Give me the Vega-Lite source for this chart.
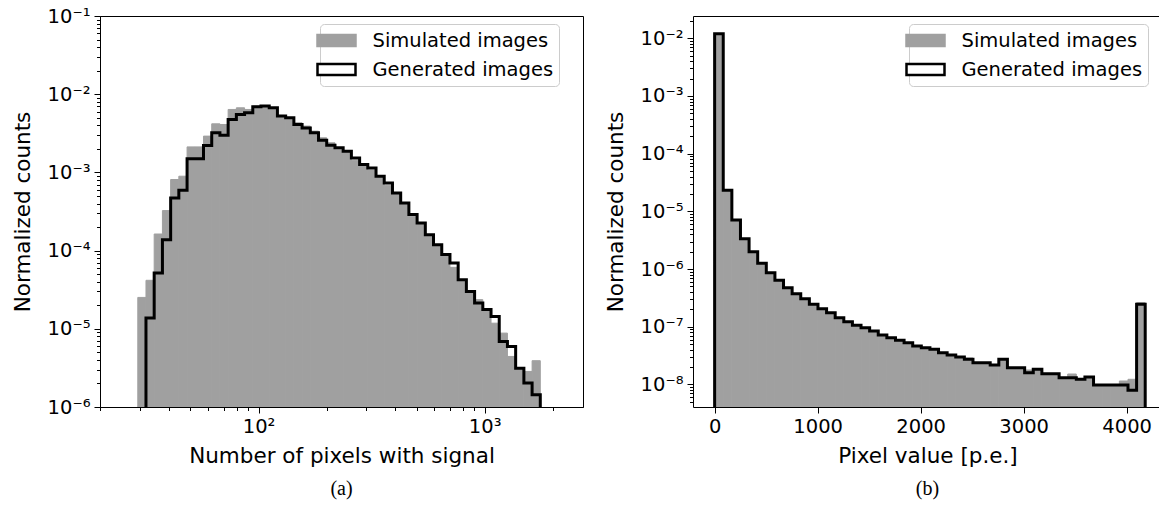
{
  "$schema": "https://vega.github.io/schema/vega-lite/v6.json",
  "background": "white",
  "padding": {"left": 11, "top": 5, "right": 0, "bottom": 5},
  "bounds": "flush",
  "spacing": 110,
  "datasets": {
    "simA": [
      {"series": "Simulated images", "x0": 29.24, "x1": 31.78, "v": 2.52e-5},
      {"series": "Simulated images", "x0": 31.78, "x1": 34.55, "v": 4.17e-5},
      {"series": "Simulated images", "x0": 34.55, "x1": 37.58, "v": 1.63e-4},
      {"series": "Simulated images", "x0": 37.58, "x1": 40.86, "v": 3.25e-4},
      {"series": "Simulated images", "x0": 40.86, "x1": 44.41, "v": 8.11e-4},
      {"series": "Simulated images", "x0": 44.41, "x1": 48.30, "v": 8.94e-4},
      {"series": "Simulated images", "x0": 48.30, "x1": 52.51, "v": 2.12e-3},
      {"series": "Simulated images", "x0": 52.51, "x1": 57.09, "v": 2.12e-3},
      {"series": "Simulated images", "x0": 57.09, "x1": 62.08, "v": 2.91e-3},
      {"series": "Simulated images", "x0": 62.08, "x1": 67.48, "v": 4.18e-3},
      {"series": "Simulated images", "x0": 67.48, "x1": 73.37, "v": 4.10e-3},
      {"series": "Simulated images", "x0": 73.37, "x1": 79.78, "v": 6.38e-3},
      {"series": "Simulated images", "x0": 79.78, "x1": 86.74, "v": 6.70e-3},
      {"series": "Simulated images", "x0": 86.74, "x1": 94.30, "v": 6.38e-3},
      {"series": "Simulated images", "x0": 94.30, "x1": 102.5, "v": 7.04e-3},
      {"series": "Simulated images", "x0": 102.5, "x1": 111.5, "v": 7.04e-3},
      {"series": "Simulated images", "x0": 111.5, "x1": 121.2, "v": 6.38e-3},
      {"series": "Simulated images", "x0": 121.2, "x1": 131.8, "v": 5.35e-3},
      {"series": "Simulated images", "x0": 131.8, "x1": 143.3, "v": 4.99e-3},
      {"series": "Simulated images", "x0": 143.3, "x1": 155.8, "v": 4.31e-3},
      {"series": "Simulated images", "x0": 155.8, "x1": 169.4, "v": 3.91e-3},
      {"series": "Simulated images", "x0": 169.4, "x1": 184.2, "v": 3.37e-3},
      {"series": "Simulated images", "x0": 184.2, "x1": 200.2, "v": 2.77e-3},
      {"series": "Simulated images", "x0": 200.2, "x1": 217.8, "v": 2.39e-3},
      {"series": "Simulated images", "x0": 217.8, "x1": 236.7, "v": 1.98e-3},
      {"series": "Simulated images", "x0": 236.7, "x1": 257.4, "v": 1.87e-3},
      {"series": "Simulated images", "x0": 257.4, "x1": 279.9, "v": 1.43e-3},
      {"series": "Simulated images", "x0": 279.9, "x1": 304.2, "v": 1.26e-3},
      {"series": "Simulated images", "x0": 304.2, "x1": 330.8, "v": 1.07e-3},
      {"series": "Simulated images", "x0": 330.8, "x1": 359.6, "v": 8.94e-4},
      {"series": "Simulated images", "x0": 359.6, "x1": 391.1, "v": 6.86e-4},
      {"series": "Simulated images", "x0": 391.1, "x1": 425.2, "v": 5.47e-4},
      {"series": "Simulated images", "x0": 425.2, "x1": 462.2, "v": 4.10e-4},
      {"series": "Simulated images", "x0": 462.2, "x1": 502.6, "v": 2.75e-4},
      {"series": "Simulated images", "x0": 502.6, "x1": 546.5, "v": 2.24e-4},
      {"series": "Simulated images", "x0": 546.5, "x1": 594.0, "v": 1.57e-4},
      {"series": "Simulated images", "x0": 594.0, "x1": 646.0, "v": 1.17e-4},
      {"series": "Simulated images", "x0": 646.0, "x1": 702.3, "v": 8.71e-5},
      {"series": "Simulated images", "x0": 702.3, "x1": 763.5, "v": 6.11e-5},
      {"series": "Simulated images", "x0": 763.5, "x1": 830.1, "v": 4.17e-5},
      {"series": "Simulated images", "x0": 830.1, "x1": 902.6, "v": 2.95e-5},
      {"series": "Simulated images", "x0": 902.6, "x1": 981.3, "v": 2.36e-5},
      {"series": "Simulated images", "x0": 981.3, "x1": 1067, "v": 1.73e-5},
      {"series": "Simulated images", "x0": 1067, "x1": 1160, "v": 1.18e-5},
      {"series": "Simulated images", "x0": 1160, "x1": 1261, "v": 8.81e-6},
      {"series": "Simulated images", "x0": 1261, "x1": 1371, "v": 4.43e-6},
      {"series": "Simulated images", "x0": 1371, "x1": 1491, "v": 3.12e-6},
      {"series": "Simulated images", "x0": 1491, "x1": 1621, "v": 2.85e-6},
      {"series": "Simulated images", "x0": 1621, "x1": 1762, "v": 3.91e-6}
    ],
    "genA": [
      {"i": 0, "x": 31.78, "v": 1e-6},
      {"i": 1, "x": 31.78, "v": 1.37e-5},
      {"i": 2, "x": 34.55, "v": 5.16e-5},
      {"i": 3, "x": 37.58, "v": 1.38e-4},
      {"i": 4, "x": 40.86, "v": 4.71e-4},
      {"i": 5, "x": 44.41, "v": 5.92e-4},
      {"i": 6, "x": 48.30, "v": 1.49e-3},
      {"i": 7, "x": 52.51, "v": 1.49e-3},
      {"i": 8, "x": 57.09, "v": 2.21e-3},
      {"i": 9, "x": 62.08, "v": 3.21e-3},
      {"i": 10, "x": 67.48, "v": 2.99e-3},
      {"i": 11, "x": 73.37, "v": 4.75e-3},
      {"i": 12, "x": 79.78, "v": 5.51e-3},
      {"i": 13, "x": 86.74, "v": 5.78e-3},
      {"i": 14, "x": 94.30, "v": 6.90e-3},
      {"i": 15, "x": 102.5, "v": 7.04e-3},
      {"i": 16, "x": 111.5, "v": 6.70e-3},
      {"i": 17, "x": 121.2, "v": 5.25e-3},
      {"i": 18, "x": 131.8, "v": 4.99e-3},
      {"i": 19, "x": 143.3, "v": 4.10e-3},
      {"i": 20, "x": 155.8, "v": 3.71e-3},
      {"i": 21, "x": 169.4, "v": 3.21e-3},
      {"i": 22, "x": 184.2, "v": 2.58e-3},
      {"i": 23, "x": 200.2, "v": 2.23e-3},
      {"i": 24, "x": 217.8, "v": 2.06e-3},
      {"i": 25, "x": 236.7, "v": 1.87e-3},
      {"i": 26, "x": 257.4, "v": 1.53e-3},
      {"i": 27, "x": 279.9, "v": 1.26e-3},
      {"i": 28, "x": 304.2, "v": 1.14e-3},
      {"i": 29, "x": 330.8, "v": 8.94e-4},
      {"i": 30, "x": 359.6, "v": 7.34e-4},
      {"i": 31, "x": 391.1, "v": 5.47e-4},
      {"i": 32, "x": 425.2, "v": 4.07e-4},
      {"i": 33, "x": 462.2, "v": 2.89e-4},
      {"i": 34, "x": 502.6, "v": 2.26e-4},
      {"i": 35, "x": 546.5, "v": 1.60e-4},
      {"i": 36, "x": 594.0, "v": 1.19e-4},
      {"i": 37, "x": 646.0, "v": 8.89e-5},
      {"i": 38, "x": 702.3, "v": 6.94e-5},
      {"i": 39, "x": 763.5, "v": 4.25e-5},
      {"i": 40, "x": 830.1, "v": 3.01e-5},
      {"i": 41, "x": 902.6, "v": 2.13e-5},
      {"i": 42, "x": 981.3, "v": 1.76e-5},
      {"i": 43, "x": 1067, "v": 1.44e-5},
      {"i": 44, "x": 1160, "v": 6.90e-6},
      {"i": 45, "x": 1261, "v": 5.96e-6},
      {"i": 46, "x": 1371, "v": 3.14e-6},
      {"i": 47, "x": 1491, "v": 2.02e-6},
      {"i": 48, "x": 1621, "v": 1.43e-6},
      {"i": 49, "x": 1762, "v": 1.43e-6},
      {"i": 50, "x": 1762, "v": 1e-6}
    ],
    "simB": [
      {"series": "Simulated images", "x0": 0, "x1": 83.6, "v": 0.01202},
      {"series": "Simulated images", "x0": 83.6, "x1": 167.2, "v": 2.32e-5},
      {"series": "Simulated images", "x0": 167.2, "x1": 250.8, "v": 7.10e-6},
      {"series": "Simulated images", "x0": 250.8, "x1": 334.4, "v": 3.36e-6},
      {"series": "Simulated images", "x0": 334.4, "x1": 418, "v": 2.00e-6},
      {"series": "Simulated images", "x0": 418, "x1": 501.6, "v": 1.26e-6},
      {"series": "Simulated images", "x0": 501.6, "x1": 585.2, "v": 8.66e-7},
      {"series": "Simulated images", "x0": 585.2, "x1": 668.8, "v": 6.39e-7},
      {"series": "Simulated images", "x0": 668.8, "x1": 752.4, "v": 4.76e-7},
      {"series": "Simulated images", "x0": 752.4, "x1": 836, "v": 3.75e-7},
      {"series": "Simulated images", "x0": 836, "x1": 919.6, "v": 3.07e-7},
      {"series": "Simulated images", "x0": 919.6, "x1": 1003.2, "v": 2.45e-7},
      {"series": "Simulated images", "x0": 1003.2, "x1": 1086.8, "v": 2.06e-7},
      {"series": "Simulated images", "x0": 1086.8, "x1": 1170.4, "v": 1.755e-7},
      {"series": "Simulated images", "x0": 1170.4, "x1": 1254, "v": 1.438e-7},
      {"series": "Simulated images", "x0": 1254, "x1": 1337.6, "v": 1.226e-7},
      {"series": "Simulated images", "x0": 1337.6, "x1": 1421.2, "v": 1.062e-7},
      {"series": "Simulated images", "x0": 1421.2, "x1": 1504.8, "v": 9.65e-8},
      {"series": "Simulated images", "x0": 1504.8, "x1": 1588.4, "v": 8.46e-8},
      {"series": "Simulated images", "x0": 1588.4, "x1": 1672, "v": 7.21e-8},
      {"series": "Simulated images", "x0": 1672, "x1": 1755.6, "v": 6.47e-8},
      {"series": "Simulated images", "x0": 1755.6, "x1": 1839.2, "v": 5.83e-8},
      {"series": "Simulated images", "x0": 1839.2, "x1": 1922.8, "v": 5.30e-8},
      {"series": "Simulated images", "x0": 1922.8, "x1": 2006.4, "v": 4.65e-8},
      {"series": "Simulated images", "x0": 2006.4, "x1": 2090, "v": 4.34e-8},
      {"series": "Simulated images", "x0": 2090, "x1": 2173.6, "v": 4.07e-8},
      {"series": "Simulated images", "x0": 2173.6, "x1": 2257.2, "v": 3.56e-8},
      {"series": "Simulated images", "x0": 2257.2, "x1": 2340.8, "v": 3.25e-8},
      {"series": "Simulated images", "x0": 2340.8, "x1": 2424.4, "v": 3.00e-8},
      {"series": "Simulated images", "x0": 2424.4, "x1": 2508, "v": 2.88e-8},
      {"series": "Simulated images", "x0": 2508, "x1": 2591.6, "v": 2.39e-8},
      {"series": "Simulated images", "x0": 2591.6, "x1": 2675.2, "v": 2.39e-8},
      {"series": "Simulated images", "x0": 2675.2, "x1": 2758.8, "v": 2.18e-8},
      {"series": "Simulated images", "x0": 2758.8, "x1": 2842.4, "v": 2.62e-8},
      {"series": "Simulated images", "x0": 2842.4, "x1": 2926, "v": 1.955e-8},
      {"series": "Simulated images", "x0": 2926, "x1": 3009.6, "v": 1.955e-8},
      {"series": "Simulated images", "x0": 3009.6, "x1": 3093.2, "v": 1.784e-8},
      {"series": "Simulated images", "x0": 3093.2, "x1": 3176.8, "v": 1.834e-8},
      {"series": "Simulated images", "x0": 3176.8, "x1": 3260.4, "v": 1.539e-8},
      {"series": "Simulated images", "x0": 3260.4, "x1": 3344, "v": 1.539e-8},
      {"series": "Simulated images", "x0": 3344, "x1": 3427.6, "v": 1.312e-8},
      {"series": "Simulated images", "x0": 3427.6, "x1": 3511.2, "v": 1.52e-8},
      {"series": "Simulated images", "x0": 3511.2, "x1": 3594.8, "v": 1.231e-8},
      {"series": "Simulated images", "x0": 3594.8, "x1": 3678.4, "v": 1.349e-8},
      {"series": "Simulated images", "x0": 3678.4, "x1": 3762, "v": 9.80e-9},
      {"series": "Simulated images", "x0": 3762, "x1": 3845.6, "v": 9.80e-9},
      {"series": "Simulated images", "x0": 3845.6, "x1": 3929.2, "v": 9.80e-9},
      {"series": "Simulated images", "x0": 3929.2, "x1": 4012.8, "v": 1.150e-8},
      {"series": "Simulated images", "x0": 4012.8, "x1": 4096.4, "v": 1.231e-8},
      {"series": "Simulated images", "x0": 4096.4, "x1": 4180, "v": 2.62e-7}
    ],
    "genB": [
      {"i": 0, "x": 0, "v": 4.074e-9},
      {"i": 1, "x": 0, "v": 0.01202},
      {"i": 2, "x": 83.6, "v": 2.321e-5},
      {"i": 3, "x": 167.2, "v": 7.10e-6},
      {"i": 4, "x": 250.8, "v": 3.364e-6},
      {"i": 5, "x": 334.4, "v": 2.002e-6},
      {"i": 6, "x": 418, "v": 1.260e-6},
      {"i": 7, "x": 501.6, "v": 8.66e-7},
      {"i": 8, "x": 585.2, "v": 6.39e-7},
      {"i": 9, "x": 668.8, "v": 4.76e-7},
      {"i": 10, "x": 752.4, "v": 3.75e-7},
      {"i": 11, "x": 836, "v": 3.07e-7},
      {"i": 12, "x": 919.6, "v": 2.45e-7},
      {"i": 13, "x": 1003.2, "v": 2.06e-7},
      {"i": 14, "x": 1086.8, "v": 1.755e-7},
      {"i": 15, "x": 1170.4, "v": 1.438e-7},
      {"i": 16, "x": 1254, "v": 1.226e-7},
      {"i": 17, "x": 1337.6, "v": 1.062e-7},
      {"i": 18, "x": 1421.2, "v": 9.65e-8},
      {"i": 19, "x": 1504.8, "v": 8.46e-8},
      {"i": 20, "x": 1588.4, "v": 7.21e-8},
      {"i": 21, "x": 1672, "v": 6.47e-8},
      {"i": 22, "x": 1755.6, "v": 5.83e-8},
      {"i": 23, "x": 1839.2, "v": 5.30e-8},
      {"i": 24, "x": 1922.8, "v": 4.65e-8},
      {"i": 25, "x": 2006.4, "v": 4.34e-8},
      {"i": 26, "x": 2090, "v": 4.07e-8},
      {"i": 27, "x": 2173.6, "v": 3.56e-8},
      {"i": 28, "x": 2257.2, "v": 3.25e-8},
      {"i": 29, "x": 2340.8, "v": 3.00e-8},
      {"i": 30, "x": 2424.4, "v": 2.73e-8},
      {"i": 31, "x": 2508, "v": 2.39e-8},
      {"i": 32, "x": 2591.6, "v": 2.39e-8},
      {"i": 33, "x": 2675.2, "v": 2.18e-8},
      {"i": 34, "x": 2758.8, "v": 2.73e-8},
      {"i": 35, "x": 2842.4, "v": 1.955e-8},
      {"i": 36, "x": 2926, "v": 1.955e-8},
      {"i": 37, "x": 3009.6, "v": 1.602e-8},
      {"i": 38, "x": 3093.2, "v": 1.834e-8},
      {"i": 39, "x": 3176.8, "v": 1.539e-8},
      {"i": 40, "x": 3260.4, "v": 1.539e-8},
      {"i": 41, "x": 3344, "v": 1.312e-8},
      {"i": 42, "x": 3427.6, "v": 1.312e-8},
      {"i": 43, "x": 3511.2, "v": 1.231e-8},
      {"i": 44, "x": 3594.8, "v": 1.349e-8},
      {"i": 45, "x": 3678.4, "v": 9.80e-9},
      {"i": 46, "x": 3762, "v": 9.80e-9},
      {"i": 47, "x": 3845.6, "v": 9.80e-9},
      {"i": 48, "x": 3929.2, "v": 9.80e-9},
      {"i": 49, "x": 4012.8, "v": 7.93e-9},
      {"i": 50, "x": 4096.4, "v": 2.45e-7},
      {"i": 51, "x": 4180, "v": 2.45e-7},
      {"i": 52, "x": 4180, "v": 4.074e-9}
    ]
  },
  "hconcat": [
    {
      "width": 483,
      "height": 391,
      "title": {"text": "(a)", "orient": "bottom", "anchor": "middle", "font": "Liberation Serif", "fontSize": 20, "fontWeight": "normal", "color": "black", "offset": 12},
      "layer": [
        {
          "data": {"name": "simA"},
          "mark": {"type": "bar", "clip": true, "strokeWidth": 1},
          "encoding": {
            "x": {
              "field": "x0", "type": "quantitative",
              "scale": {"type": "log", "domain": [19.9, 2722], "nice": false},
              "title": "Number of pixels with signal",
              "axis": {
                "values": [20, 30, 40, 50, 60, 70, 80, 90, 100, 200, 300, 400, 500, 600, 700, 800, 900, 1000, 2000],
                "labelExpr": "datum.value == 100 ? '10²' : (datum.value == 1000 ? '10³' : '')",
                "tickSize": {"condition": {"test": "datum.value == 100 || datum.value == 1000", "value": 6}, "value": 3.5},
                "labelPadding": 4,
                "titlePadding": 10
              }
            },
            "x2": {"field": "x1"},
            "y": {
              "field": "v", "type": "quantitative", "stack": null,
              "scale": {"type": "log", "domain": [1e-6, 0.1], "nice": false},
              "title": "Normalized counts",
              "axis": {
                "values": [1e-6, 2e-6, 3e-6, 4e-6, 5e-6, 6e-6, 7e-6, 8e-6, 9e-6, 1e-5, 2e-5, 3e-5, 4e-5, 5e-5, 6e-5, 7e-5, 8e-5, 9e-5, 1e-4, 2e-4, 3e-4, 4e-4, 5e-4, 6e-4, 7e-4, 8e-4, 9e-4, 1e-3, 2e-3, 3e-3, 4e-3, 5e-3, 6e-3, 7e-3, 8e-3, 9e-3, 1e-2, 2e-2, 3e-2, 4e-2, 5e-2, 6e-2, 7e-2, 8e-2, 9e-2, 1e-1],
                "labelExpr": "abs(log(datum.value)/LN10 - round(log(datum.value)/LN10)) < 0.001 ? '10⁻' + ['⁰','¹','²','³','⁴','⁵','⁶','⁷','⁸','⁹'][-round(log(datum.value)/LN10)] : ''",
                "tickSize": {"condition": {"test": "abs(log(datum.value)/LN10 - round(log(datum.value)/LN10)) < 0.001", "value": 6}, "value": 3.5},
                "labelPadding": 4,
                "titlePadding": 13
              }
            },
            "y2": {"value": "height"},
            "fill": {
              "field": "series", "type": "nominal",
              "scale": {"domain": ["Simulated images", "Generated images"], "range": ["#a0a0a0", "#ffffff"]},
              "legend": {"orient": "none", "legendX": 220, "legendY": 8, "title": null, "symbolType": "M-1.9,-0.55L1.9,-0.55L1.9,0.55L-1.9,0.55Z", "symbolSize": 400, "symbolStrokeWidth": 2.5, "labelFont": "DejaVu Sans", "labelFontSize": 19.5, "labelColor": "black", "labelOffset": 24.5, "rowPadding": 7.1, "padding": 5, "fillColor": "white", "strokeColor": "#cccccc", "cornerRadius": 4, "labelLimit": 400}
            },
            "stroke": {
              "field": "series", "type": "nominal",
              "scale": {"domain": ["Simulated images", "Generated images"], "range": ["#a0a0a0", "#000000"]},
              "legend": {"orient": "none", "legendX": 220, "legendY": 8, "title": null, "symbolType": "M-1.9,-0.55L1.9,-0.55L1.9,0.55L-1.9,0.55Z", "symbolSize": 400, "symbolStrokeWidth": 2.5, "labelFont": "DejaVu Sans", "labelFontSize": 19.5, "labelColor": "black", "labelOffset": 24.5, "rowPadding": 7.1, "padding": 5, "fillColor": "white", "strokeColor": "#cccccc", "cornerRadius": 4, "labelLimit": 400}
            }
          }
        },
        {
          "data": {"name": "genA"},
          "mark": {"type": "line", "interpolate": "step-after", "color": "black", "strokeWidth": 3, "clip": true},
          "encoding": {
            "x": {"field": "x", "type": "quantitative"},
            "y": {"field": "v", "type": "quantitative"},
            "order": {"field": "i", "type": "quantitative"}
          }
        }
      ]
    },
    {
      "width": 469,
      "height": 391,
      "view": {"stroke": null},
      "title": {"text": "(b)", "orient": "bottom", "anchor": "middle", "font": "Liberation Serif", "fontSize": 20, "fontWeight": "normal", "color": "black", "offset": 12},
      "resolve": {"axis": {"x": "independent"}},
      "layer": [
        {
          "data": {"name": "simB"},
          "mark": {"type": "bar", "clip": true, "strokeWidth": 1},
          "encoding": {
            "x": {
              "field": "x0", "type": "quantitative",
              "scale": {"domain": [-210, 4343], "nice": false, "zero": false},
              "title": "Pixel value [p.e.]",
              "axis": {"values": [0, 1000, 2000, 3000, 4000], "format": "d", "tickSize": 6, "labelPadding": 4, "titlePadding": 10}
            },
            "x2": {"field": "x1"},
            "y": {
              "field": "v", "type": "quantitative", "stack": null,
              "scale": {"type": "log", "domain": [4.074e-9, 0.02432], "nice": false},
              "title": "Normalized counts",
              "axis": {
                "values": [5e-9, 6e-9, 7e-9, 8e-9, 9e-9, 1e-8, 2e-8, 3e-8, 4e-8, 5e-8, 6e-8, 7e-8, 8e-8, 9e-8, 1e-7, 2e-7, 3e-7, 4e-7, 5e-7, 6e-7, 7e-7, 8e-7, 9e-7, 1e-6, 2e-6, 3e-6, 4e-6, 5e-6, 6e-6, 7e-6, 8e-6, 9e-6, 1e-5, 2e-5, 3e-5, 4e-5, 5e-5, 6e-5, 7e-5, 8e-5, 9e-5, 1e-4, 2e-4, 3e-4, 4e-4, 5e-4, 6e-4, 7e-4, 8e-4, 9e-4, 1e-3, 2e-3, 3e-3, 4e-3, 5e-3, 6e-3, 7e-3, 8e-3, 9e-3, 1e-2, 2e-2],
                "labelExpr": "abs(log(datum.value)/LN10 - round(log(datum.value)/LN10)) < 0.001 ? '10⁻' + ['⁰','¹','²','³','⁴','⁵','⁶','⁷','⁸','⁹'][-round(log(datum.value)/LN10)] : ''",
                "tickSize": {"condition": {"test": "abs(log(datum.value)/LN10 - round(log(datum.value)/LN10)) < 0.001", "value": 6}, "value": 3.5},
                "labelPadding": 4,
                "titlePadding": 13
              }
            },
            "y2": {"value": "height"},
            "fill": {
              "field": "series", "type": "nominal",
              "scale": {"domain": ["Simulated images", "Generated images"], "range": ["#a0a0a0", "#ffffff"]},
              "legend": {"orient": "none", "legendX": 216, "legendY": 8, "title": null, "symbolType": "M-1.9,-0.55L1.9,-0.55L1.9,0.55L-1.9,0.55Z", "symbolSize": 400, "symbolStrokeWidth": 2.5, "labelFont": "DejaVu Sans", "labelFontSize": 19.5, "labelColor": "black", "labelOffset": 24.5, "rowPadding": 7.1, "padding": 5, "fillColor": "white", "strokeColor": "#cccccc", "cornerRadius": 4, "labelLimit": 400}
            },
            "stroke": {
              "field": "series", "type": "nominal",
              "scale": {"domain": ["Simulated images", "Generated images"], "range": ["#a0a0a0", "#000000"]},
              "legend": {"orient": "none", "legendX": 216, "legendY": 8, "title": null, "symbolType": "M-1.9,-0.55L1.9,-0.55L1.9,0.55L-1.9,0.55Z", "symbolSize": 400, "symbolStrokeWidth": 2.5, "labelFont": "DejaVu Sans", "labelFontSize": 19.5, "labelColor": "black", "labelOffset": 24.5, "rowPadding": 7.1, "padding": 5, "fillColor": "white", "strokeColor": "#cccccc", "cornerRadius": 4, "labelLimit": 400}
            }
          }
        },
        {
          "data": {"name": "genB"},
          "mark": {"type": "line", "interpolate": "step-after", "color": "black", "strokeWidth": 3, "clip": true},
          "encoding": {
            "x": {"field": "x", "type": "quantitative", "axis": {"orient": "top", "labels": false, "ticks": false, "title": null, "domain": true, "domainColor": "black", "domainWidth": 1}},
            "y": {"field": "v", "type": "quantitative"},
            "order": {"field": "i", "type": "quantitative"}
          }
        }
      ]
    }
  ],
  "resolve": {
    "scale": {"fill": "independent", "stroke": "independent"},
    "legend": {"fill": "independent", "stroke": "independent"}
  },
  "config": {
    "view": {"stroke": "black", "strokeWidth": 1},
    "axis": {
      "labelFont": "DejaVu Sans", "labelFontSize": 19.5, "labelColor": "black",
      "titleFont": "DejaVu Sans", "titleFontSize": 21.5, "titleFontWeight": "normal", "titleColor": "black",
      "domainColor": "black", "domainWidth": 1, "tickColor": "black", "tickWidth": 1,
      "grid": false, "labelOverlap": false, "labelFlush": false, "labelBound": false
    }
  }
}
